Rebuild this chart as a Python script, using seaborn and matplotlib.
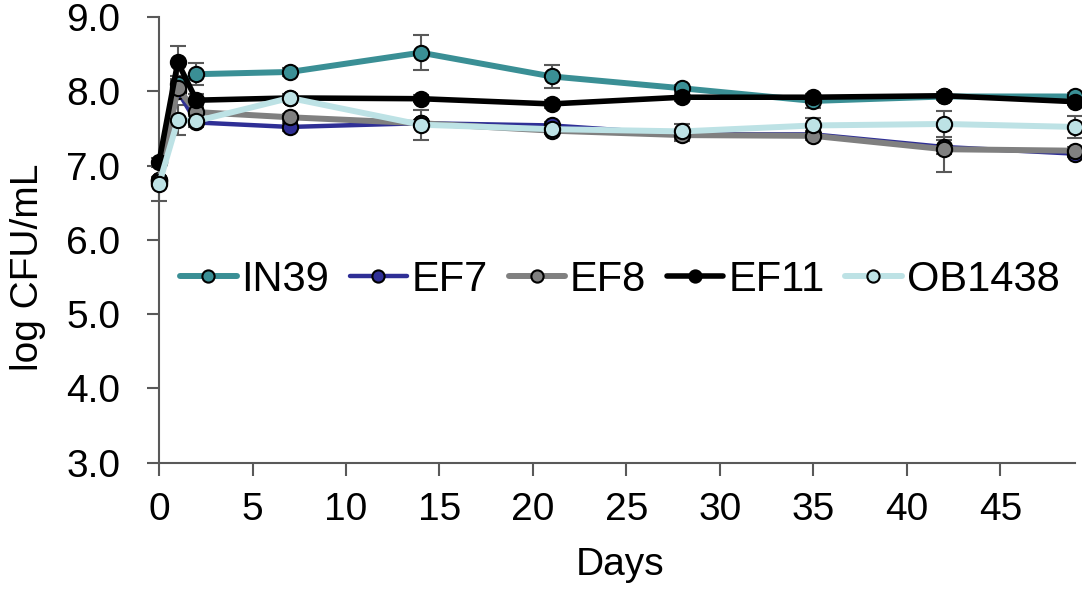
import numpy as np
import pandas as pd
import matplotlib
matplotlib.use('Agg')
import matplotlib.pyplot as plt
import seaborn as sns

# Данные
days = [0, 1, 2, 7, 14, 21, 28, 35, 42, 49]
strains = ['IN39', 'EF7', 'EF8', 'EF11', 'OB1438']

in39 = [6.80, 8.10, 8.23, 8.26, 8.52, 8.20, 8.04, 7.87, 7.93, 7.93]
ef7 = [6.80, 8.00, 7.58, 7.52, 7.57, 7.54, 7.42, 7.42, 7.25, 7.16]
ef8 = [6.78, 8.04, 7.72, 7.65, 7.57, 7.47, 7.41, 7.40, 7.22, 7.20]
ef11 = [7.05, 8.39, 7.88, 7.91, 7.90, 7.83, 7.92, 7.92, 7.94, 7.86]
ob1438 = [6.75, 7.61, 7.60, 7.91, 7.55, 7.49, 7.46, 7.54, 7.56, 7.52]

in39_err = [0.05, 0.10, 0.15, 0.05, 0.24, 0.16, 0.05, 0.10, 0.05, 0.05]
ef7_err = [0.05, 0.05, 0.05, 0.05, 0.05, 0.05, 0.05, 0.05, 0.10, 0.05]
ef8_err = [0.05, 0.10, 0.05, 0.05, 0.05, 0.05, 0.08, 0.05, 0.30, 0.05]
ef11_err = [0.05, 0.22, 0.08, 0.05, 0.05, 0.05, 0.05, 0.05, 0.05, 0.05]
ob1438_err = [0.23, 0.20, 0.08, 0.05, 0.20, 0.05, 0.10, 0.10, 0.18, 0.15]

colors = ['#3a8f95', '#2f2f96', '#808080', '#000000', '#bde2e5']
widths = [4.3, 3.2, 4.3, 4.0, 4.3]

values = [in39, ef7, ef8, ef11, ob1438]
errors = [in39_err, ef7_err, ef8_err, ef11_err, ob1438_err]

data = pd.DataFrame({
    'Days': days * len(strains),
    'value': np.concatenate(values),
    'err': np.concatenate(errors),
    'strain': np.repeat(strains, len(days)),
})

sns.set_style('ticks')
plt.rcParams['font.family'] = ['Liberation Sans', 'DejaVu Sans']
plt.rcParams['text.color'] = 'black'
plt.rcParams['axes.labelcolor'] = 'black'

fig = plt.figure(figsize=(10.82, 5.92), dpi=100)
ax = fig.add_axes([0.147, 0.2184, 0.8466, 0.7529])

# Планки погрешностей (серые, под линиями)
for s in strains:
    d = data[data['strain'] == s]
    eb = ax.errorbar(d['Days'], d['value'], yerr=d['err'], fmt='none',
                     ecolor='#595959', elinewidth=1.5, capsize=6,
                     capthick=1.5, zorder=1)
    for art in eb.lines[1] + eb.lines[2]:
        art.set_clip_on(False)

# Линии с маркерами
for i, s in enumerate(strains):
    d = data[data['strain'] == s]
    sns.lineplot(data=d, x='Days', y='value', ax=ax, color=colors[i],
                 linewidth=widths[i], marker='o', markersize=11,
                 markeredgecolor='black', markeredgewidth=1.5,
                 label=s, errorbar=None, zorder=2 + i, clip_on=False)

ax.set_xlim(0, 49)
ax.set_ylim(3.0, 9.0)
ax.set_xticks(range(0, 50, 5))
ax.set_yticks(np.arange(3.0, 9.01, 1.0))
ax.set_yticklabels(['{:.1f}'.format(v) for v in np.arange(3.0, 9.01, 1.0)])

for side in ['top', 'right']:
    ax.spines[side].set_visible(False)
for side in ['left', 'bottom']:
    ax.spines[side].set_color('#595959')
    ax.spines[side].set_linewidth(1.5)
ax.tick_params(axis='both', direction='out', length=9, width=1.5,
               color='#595959', labelcolor='black', labelsize=28)
ax.tick_params(axis='y', pad=19)
ax.tick_params(axis='x', pad=12)

ax.set_xlabel('Days', fontsize=28)
ax.set_ylabel('log CFU/mL', fontsize=28)
ax.xaxis.set_label_coords(0.503, -0.189)
ax.yaxis.set_label_coords(-0.123, 0.439)

ax.legend(loc='center', bbox_to_anchor=(0.503, 0.41), ncol=5, frameon=False,
          fontsize=30, handlelength=1.35, handletextpad=0.12,
          columnspacing=0.5, markerscale=0.8, borderaxespad=0)

fig.savefig('out.png', dpi=100)
